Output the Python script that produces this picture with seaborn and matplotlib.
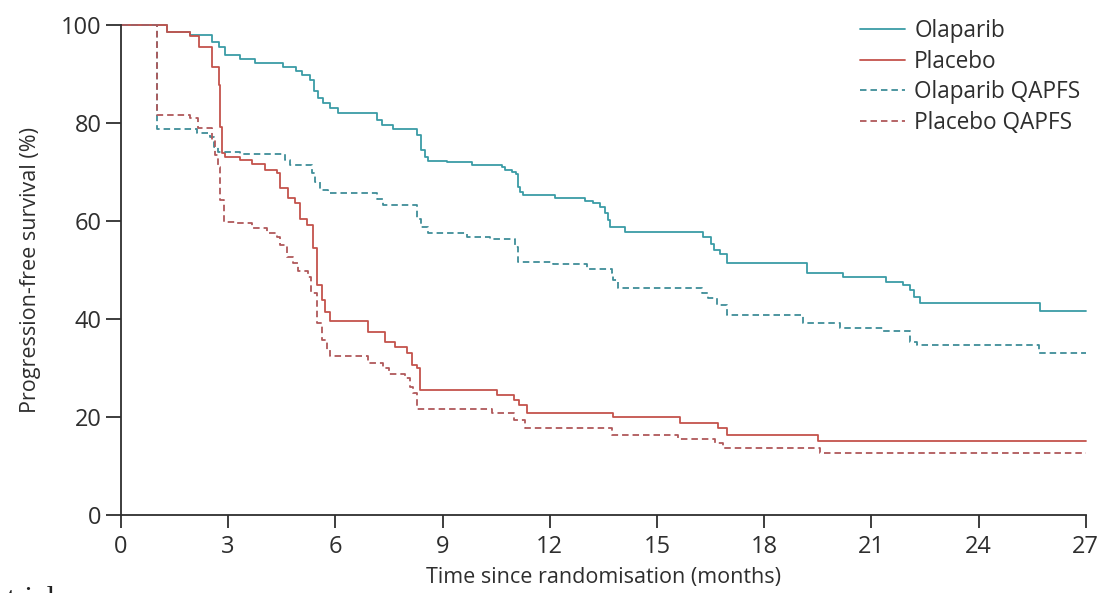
import matplotlib
matplotlib.use("Agg")
import matplotlib.pyplot as plt
import seaborn as sns
import pandas as pd

# ---- data ----
olaparib_t = [0, 1.3, 1.93, 2.54, 2.73, 2.91, 3.33, 3.75, 4.54, 4.9, 5.06, 5.29, 5.4, 5.5,
              5.66, 5.85, 6.08, 7.16, 7.3, 7.6, 8.28, 8.41, 8.51, 8.6, 9.12, 9.82, 10.65,
              10.75, 10.95, 11.06, 11.1, 11.17, 11.26, 12.15, 13.0, 13.2, 13.4, 13.55, 13.63,
              13.7, 14.1, 16.3, 16.5, 16.6, 16.77, 16.97, 19.2, 20.2, 21.4, 21.9, 22.09,
              22.2, 22.37, 25.73, 27.0]
olaparib_s = [100, 98.6, 97.9, 96.5, 95.5, 93.8, 93.0, 92.3, 91.4, 90.6, 89.8, 88.8, 86.5, 85.0,
              84.0, 83.0, 82.0, 80.6, 79.6, 78.7, 77.5, 74.5, 73.1, 72.3, 71.95, 71.5, 70.9,
              70.3, 70.0, 69.5, 67.0, 66.0, 65.3, 64.6, 64.1, 63.6, 62.8, 61.6, 60.2,
              58.8, 57.7, 56.8, 55.4, 54.1, 53.3, 51.4, 49.3, 48.6, 47.6, 46.9, 45.9,
              44.6, 43.2, 41.7, 41.7]

placebo_t = [0, 1.3, 1.93, 2.17, 2.54, 2.73, 2.77, 2.84, 2.91, 3.33, 3.66, 4.03, 4.36, 4.45,
             4.68, 4.87, 5.01, 5.2, 5.38, 5.48, 5.62, 5.71, 5.85, 6.92, 7.39, 7.67, 8.0, 8.14,
             8.28, 8.37, 10.52, 10.99, 11.13, 11.36, 13.78, 15.65, 16.72, 16.96, 19.52, 27.0]
placebo_s = [100, 98.5, 97.8, 95.5, 91.4, 87.7, 79.2, 73.8, 73.0, 72.4, 71.7, 70.4, 69.7, 66.7,
             64.6, 63.6, 60.5, 59.2, 54.4, 46.9, 43.9, 41.5, 39.7, 37.4, 35.4, 34.4, 33.0, 30.6,
             30.0, 25.5, 24.5, 23.5, 22.5, 20.9, 20.1, 18.75, 17.7, 16.4, 15.2, 15.2]

olaparib_q_t = [0, 1.0, 2.12, 2.49, 2.6, 2.72, 3.33, 4.59, 4.73, 5.34, 5.43, 5.57, 5.8, 7.16,
                7.34, 8.28, 8.41, 8.6, 9.67, 10.33, 11.03, 11.12, 12.1, 13.03, 13.73, 13.78,
                13.92, 16.25, 16.44, 16.68, 16.96, 19.1, 20.13, 21.33, 22.09, 22.28, 25.68, 27.0]
olaparib_q_s = [100, 78.7, 78.0, 77.2, 75.1, 74.1, 73.6, 72.4, 71.4, 69.7, 68.0, 66.3, 65.6, 64.4,
                63.2, 60.5, 58.8, 57.5, 56.7, 56.3, 54.7, 51.7, 51.2, 50.3, 49.3, 48.0,
                46.3, 45.3, 44.2, 42.9, 40.9, 39.1, 38.1, 37.6, 35.4, 34.7, 33.1, 33.1]

placebo_q_t = [0, 1.0, 1.93, 2.16, 2.54, 2.63, 2.72, 2.77, 2.87, 3.24, 3.66, 4.08, 4.36, 4.45,
               4.64, 4.82, 4.96, 5.24, 5.33, 5.48, 5.62, 5.76, 5.85, 6.92, 7.34, 7.5, 7.95,
               8.09, 8.18, 8.29, 10.38, 10.99, 11.32, 13.73, 15.6, 16.63, 16.86, 19.57, 27.0]
placebo_q_s = [100, 81.6, 80.9, 78.9, 76.5, 73.4, 71.1, 64.3, 59.8, 59.5, 58.5, 57.5, 56.8, 55.1,
               52.7, 51.4, 49.7, 48.6, 45.3, 39.1, 35.7, 33.7, 32.5, 31.0, 30.0, 28.9, 27.9,
               26.2, 24.9, 21.6, 20.8, 19.4, 17.7, 16.4, 15.5, 14.7, 13.8, 12.8, 12.8]

series_names = ["Olaparib", "Placebo", "Olaparib QAPFS", "Placebo QAPFS"]
x_ticks = [0, 3, 6, 9, 12, 15, 18, 21, 24, 27]
y_ticks = [0, 20, 40, 60, 80, 100]

# ---- styling ----
sns.set_theme(style="white")
plt.rcParams["font.family"] = ["Open Sans", "DejaVu Sans"]

teal = "#3a9ca6"
red = "#c4534c"
teal_d = "#3f8e98"
red_d = "#b0585a"
ink = "#2e2e2e"

fig = plt.figure(figsize=(11.02, 5.93), dpi=100)
ax = fig.add_axes([0.1098, 0.131, 0.8754, 0.8273])

data = [
    (olaparib_t, olaparib_s, series_names[0], teal, "-"),
    (placebo_t, placebo_s, series_names[1], red, "-"),
    (olaparib_q_t, olaparib_q_s, series_names[2], teal_d, (0, (3.6, 2.2))),
    (placebo_q_t, placebo_q_s, series_names[3], red_d, (0, (3.6, 2.2))),
]
for t, s, name, col, ls in data:
    df = pd.DataFrame({"t": t, "s": s})
    sns.lineplot(data=df, x="t", y="s", ax=ax, color=col, linestyle=ls, lw=1.3,
                 drawstyle="steps-post", label=name, estimator=None, clip_on=False)

ax.set_xlim(0, 27)
ax.set_ylim(0, 100)
ax.set_xticks(x_ticks)
ax.set_yticks(y_ticks)
ax.set_xticklabels([str(v) for v in x_ticks], fontsize=17, color=ink)
ax.set_yticklabels([str(v) for v in y_ticks], fontsize=17, color=ink)
ax.tick_params(axis="x", direction="out", length=9, width=1.3, color=ink, pad=5,
               bottom=True)
ax.tick_params(axis="y", direction="out", length=11, width=1.3, color=ink, pad=3,
               left=True)
for side in ["top", "right"]:
    ax.spines[side].set_visible(False)
for side in ["left", "bottom"]:
    ax.spines[side].set_color(ink)
    ax.spines[side].set_linewidth(1.3)

ax.set_xlabel("Time since randomisation (months)", fontsize=15.5, color=ink, labelpad=6)
ax.set_ylabel("Progression-free survival (%)", fontsize=15.5, color=ink, labelpad=14)

leg = ax.legend(loc="upper right", bbox_to_anchor=(1.004, 1.03), frameon=False, fontsize=16.3,
                handlelength=2.0, handletextpad=0.4, labelspacing=0.29, borderaxespad=0)
for txt in leg.get_texts():
    txt.set_color(ink)

fig.text(0.006, -0.025, "trial", family=["Liberation Serif"], fontsize=22, color="#222222",
         va="baseline", ha="left")

fig.savefig("out.png", dpi=100)
